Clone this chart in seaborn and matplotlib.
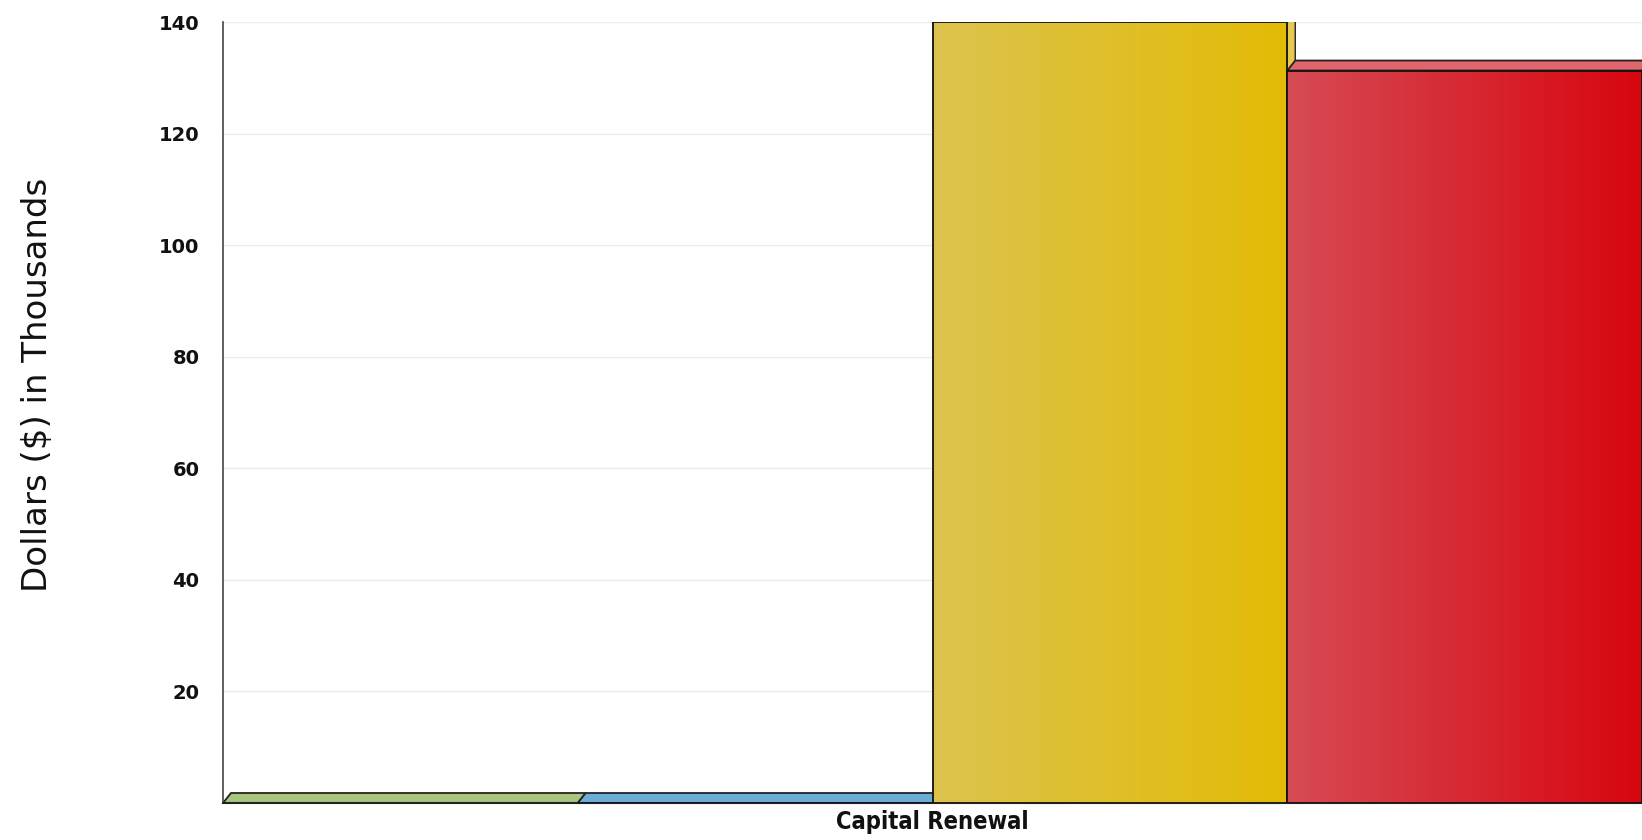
import numpy as np
import pandas as pd
import matplotlib
matplotlib.use("Agg")
import matplotlib.pyplot as plt
from matplotlib.patches import Polygon
import matplotlib.colors as mcolors
import seaborn as sns

# ---- data ----
categories = ["Capital Renewal"]
series = ["Series 1", "Series 2", "Series 3", "Series 4"]
values = [0, 0, 140, 131.3]
yticks = [20, 40, 60, 80, 100, 120, 140]

# ---- style ----
left_cols = ["#a9c57e", "#6badd5", "#dcc34e", "#d64b55"]
right_cols = ["#a9c57e", "#6badd5", "#e3bb06", "#d8060f"]
top_cols = ["#a9c57e", "#6aaed6", "#e8cf5a", "#e0656d"]
side_cols = ["#8aa460", "#4f8fb6", "#e6c850", "#b8222a"]

sns.set_theme(style="white")
plt.rcParams['font.family'] = ['DejaVu Sans']

df = pd.DataFrame({"category": categories * len(series),
                   "series": series,
                   "value": values})

W, H = 1642, 840
fig = plt.figure(figsize=(W / 100, H / 100), dpi=100)
ax_l, ax_r, ax_t, ax_b = 223, 1642, 22, 803
ax = fig.add_axes([ax_l / W, 1 - ax_b / H, (ax_r - ax_l) / W, (ax_b - ax_t) / H])

sns.barplot(data=df, x="category", y="value", hue="series", palette=left_cols,
            width=1.0, dodge=True, legend=False, ax=ax, saturation=1)

ax.set_xlim(-0.5, 0.5)
ax.set_ylim(0, 140)
ax.set_yticks(yticks)
ax.set_yticklabels([str(t) for t in yticks], fontweight="bold", fontsize=14,
                   color="#111111")
ax.tick_params(axis="y", length=0, pad=17)
ax.tick_params(axis="x", length=0, pad=5)
for lab in ax.get_xticklabels():
    lab.set_fontweight("bold")
    lab.set_fontsize(17)
    lab.set_fontstretch("condensed")
    lab.set_color("#111111")
ax.set_xlabel("")
ax.set_ylabel("")
ax.grid(axis="y", color="#ececec", linewidth=1)
ax.set_axisbelow(True)
for s in ["top", "right"]:
    ax.spines[s].set_visible(False)
ax.spines["left"].set_color("#444444")
ax.spines["left"].set_linewidth(1.2)
ax.spines["bottom"].set_color("#222222")
ax.spines["bottom"].set_linewidth(1.5)

# 3D depth offsets in pixels, converted to data units
ax_w_px = ax_r - ax_l
ax_h_px = ax_b - ax_t
dx = 8 / ax_w_px * 1.0
dy = 10 / ax_h_px * 140

patches = sorted(ax.patches, key=lambda p: p.get_x())
for i, p in enumerate(patches):
    x0 = p.get_x()
    w = p.get_width()
    x1 = x0 + w
    h = p.get_height()
    z = 2 + i
    side = Polygon([(x1, 0), (x1 + dx, dy), (x1 + dx, h + dy), (x1, h)],
                   closed=True, facecolor=side_cols[i], edgecolor="#222222",
                   linewidth=1, zorder=z)
    ax.add_patch(side)
    top = Polygon([(x0, h), (x0 + dx, h + dy), (x1 + dx, h + dy), (x1, h)],
                  closed=True, facecolor=top_cols[i], edgecolor="#222222",
                  linewidth=1.3, zorder=z + 0.1)
    ax.add_patch(top)
    if h > 0:
        cmap = mcolors.LinearSegmentedColormap.from_list(
            f"g{i}", [left_cols[i], right_cols[i]])
        grad = np.linspace(0, 1, 256).reshape(1, -1)
        im = ax.imshow(grad, extent=(x0, x1, 0, h), aspect="auto", cmap=cmap,
                       zorder=z + 0.2, origin="lower")
        im.set_clip_path(p)
    p.set_facecolor("none")
    p.set_edgecolor("#111111")
    p.set_linewidth(1.3)
    p.set_zorder(z + 0.3)

ax.set_xlim(-0.5, 0.5)
ax.set_ylim(0, 140)

fig.text(38 / W, 1 - 385 / H, "Dollars ($) in Thousands", rotation=90,
         ha="center", va="center", fontsize=24.5, family="DejaVu Sans",
         color="#111111")

fig.savefig("out.png", dpi=100)
